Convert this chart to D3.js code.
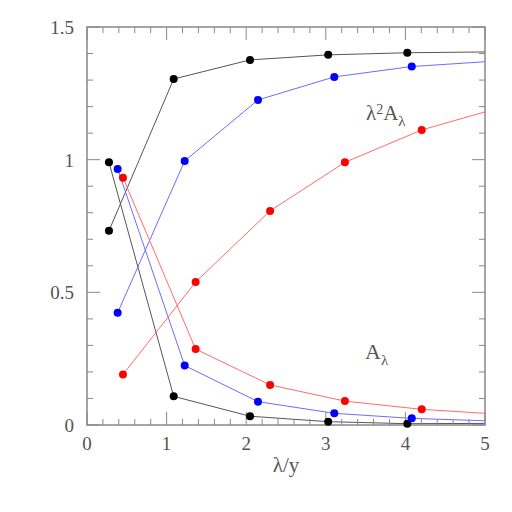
<!DOCTYPE html>
<html>
<head>
<meta charset="utf-8">
<script src="https://cdn.jsdelivr.net/npm/d3@7"></script>
<style>
  body { margin: 0; background: #fff; }
  text { font-family: "Liberation Serif", "DejaVu Serif", serif; fill: #555; }
</style>
</head>
<body>
<div id="chart"></div>
<script>
// x positions of the dots for each series
const xBlack = [0.276, 1.089, 2.048, 3.03, 4.024];
const xBlue  = [0.385, 1.227, 2.148, 3.107, 4.08];
const xRed   = [0.452, 1.365, 2.30, 3.24, 4.205];

// lambda^2 A_lambda
const bigBlack = [0.732, 1.304, 1.376, 1.395, 1.403];
const bigBlue  = [0.423, 0.995, 1.225, 1.312, 1.351];
const bigRed   = [0.190, 0.539, 0.807, 0.990, 1.112];

// A_lambda
const smallBlack = [0.990, 0.108, 0.033, 0.0125, 0.005];
const smallBlue  = [0.965, 0.224, 0.088, 0.044, 0.025];
const smallRed   = [0.932, 0.286, 0.151, 0.090, 0.059];

// where each line leaves the frame at x = 5
const endBig   = {black: 1.406, blue: 1.369, red: 1.18};
const endSmall = {black: 0.006, blue: 0.016, red: 0.044};

const xMajor = [0, 1, 2, 3, 4, 5];
const yMajor = [0, 0.5, 1, 1.5];
const yLabels = ["0", "0.5", "1", "1.5"];

const W = 512, H = 512;
const box = {left: 87, right: 485, top: 27, bottom: 425};

const x = d3.scaleLinear().domain([0, 5]).range([box.left, box.right]);
const y = d3.scaleLinear().domain([0, 1.5]).range([box.bottom, box.top]);

const svg = d3.select("#chart").append("svg")
  .attr("width", W).attr("height", H);

svg.append("defs").append("clipPath").attr("id", "plotclip")
  .append("rect")
  .attr("x", box.left).attr("y", box.top)
  .attr("width", box.right - box.left).attr("height", box.bottom - box.top);

const series = [
  {xs: xBlack, big: bigBlack, small: smallBlack, key: "black", dot: "#000", line: "#555"},
  {xs: xBlue,  big: bigBlue,  small: smallBlue,  key: "blue",  dot: "#0000ff", line: "#6c6cff"},
  {xs: xRed,   big: bigRed,   small: smallRed,   key: "red",   dot: "#ff0000", line: "#ff6c6c"}
];

const line = d3.line().x(d => x(d[0])).y(d => y(d[1]));
const lines = svg.append("g").attr("clip-path", "url(#plotclip)");

series.forEach(s => {
  const bigPts = s.xs.map((v, i) => [v, s.big[i]]).concat([[5, endBig[s.key]]]);
  const smallPts = s.xs.map((v, i) => [v, s.small[i]]).concat([[5, endSmall[s.key]]]);
  [bigPts, smallPts].forEach(pts => {
    lines.append("path")
      .attr("d", line(pts))
      .attr("fill", "none")
      .attr("stroke", s.line)
      .attr("stroke-width", 1);
  });
});

// frame
const axisColor = "#888";
svg.append("rect")
  .attr("x", box.left).attr("y", box.top)
  .attr("width", box.right - box.left).attr("height", box.bottom - box.top)
  .attr("fill", "none").attr("stroke", axisColor).attr("stroke-width", 1.5);

// ticks on all four sides
const ticks = svg.append("g").attr("stroke", axisColor).attr("stroke-width", 1);
d3.range(0, 5.001, 0.2).forEach(v => {
  const major = Math.abs(v - Math.round(v)) < 1e-6;
  const len = major ? 13 : 6;
  ticks.append("line").attr("x1", x(v)).attr("x2", x(v))
    .attr("y1", box.bottom).attr("y2", box.bottom - len);
  ticks.append("line").attr("x1", x(v)).attr("x2", x(v))
    .attr("y1", box.top).attr("y2", box.top + len);
});
d3.range(0, 1.5001, 0.1).forEach(v => {
  const major = Math.abs(v * 2 - Math.round(v * 2)) < 1e-6;
  const len = major ? 13 : 6;
  ticks.append("line").attr("y1", y(v)).attr("y2", y(v))
    .attr("x1", box.left).attr("x2", box.left + len);
  ticks.append("line").attr("y1", y(v)).attr("y2", y(v))
    .attr("x1", box.right).attr("x2", box.right - len);
});

// dots over lines
series.forEach(s => {
  s.xs.forEach((v, i) => {
    [s.big[i], s.small[i]].forEach(val => {
      svg.append("circle")
        .attr("cx", x(v)).attr("cy", y(val)).attr("r", 4)
        .attr("fill", s.dot);
    });
  });
});

// tick labels
svg.selectAll(".xl").data(xMajor).enter().append("text")
  .attr("x", d => x(d)).attr("y", 450)
  .attr("text-anchor", "middle").attr("font-size", 19)
  .text(d => d);
svg.selectAll(".yl").data(yMajor).enter().append("text")
  .attr("x", 74).attr("y", d => y(d) + 7)
  .attr("text-anchor", "end").attr("font-size", 19)
  .text((d, i) => yLabels[i]);

// axis title
svg.append("text").attr("x", 286).attr("y", 472)
  .attr("text-anchor", "middle").attr("font-size", 21)
  .text("λ/y");

// curve labels
const lab1 = svg.append("text").attr("x", 366).attr("y", 120).attr("font-size", 21);
lab1.append("tspan").text("λ");
lab1.append("tspan").attr("dy", -6).attr("font-size", 14).text("2");
lab1.append("tspan").attr("dy", 6).text("A");
lab1.append("tspan").attr("dy", 6).attr("font-size", 15).text("λ");

const lab2 = svg.append("text").attr("x", 365).attr("y", 359).attr("font-size", 22);
lab2.append("tspan").text("A");
lab2.append("tspan").attr("dy", 6).attr("font-size", 15).text("λ");
</script>
</body>
</html>
